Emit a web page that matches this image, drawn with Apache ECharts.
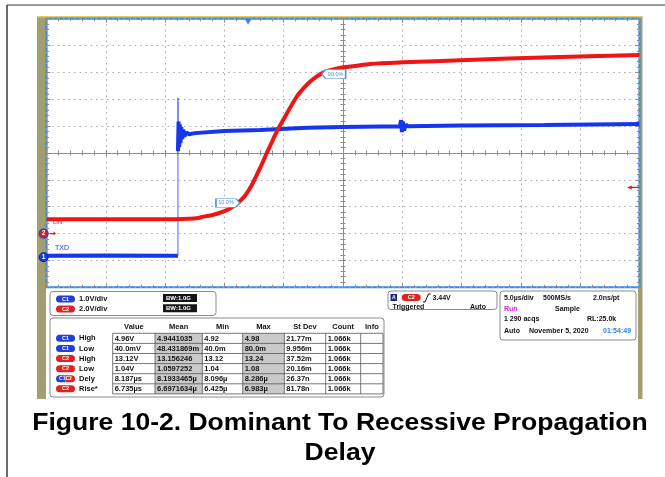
<!DOCTYPE html>
<html><head><meta charset="utf-8">
<script src="https://cdn.jsdelivr.net/npm/echarts@6/dist/echarts.min.js"></script>
<style>html,body{margin:0;padding:0;background:#fff}#c{width:665px;height:477px}</style>
</head><body><div id="c"></div>
<script>
// ---- data (time in µs, 5 µs/div; voltages in V) ----
const timeMin = -25, timeMax = 25, timeDiv = 5;
// C2 LIN (2.0 V/div, ground 2 div above bottom)
const redT = [-25,-20,-15,-13,-12.2,-11.78,-11,-10.1,-9.5,-8.97,-8.5,-8.12,-7.7,-7.28,-6.85,-6.44,-6.0,-5.59,-4.89,-3.91,-3.3,-2.78,-2.2,-1.66,-1.0,0.03,1,2.28,5.05,10.42,17.57,25];
const redV = [1.06,1.07,1.06,1.10,1.16,1.26,1.38,1.63,1.88,2.20,2.58,3.00,3.60,4.36,5.15,5.98,6.80,7.59,8.70,10.19,10.85,11.31,11.70,11.98,12.18,12.38,12.48,12.63,12.75,12.92,13.13,13.30];
// C1 TXD (1.0 V/div)
const blueLowT = [-25,-20,-15,-13.92];
const blueLowV = [0.05,0.06,0.05,0.05];
const blueEdgeT = [-13.92,-13.92,-13.90];
const blueEdgeV = [0.05,5.93,3.95];
const blueHighT = [-13.92,-13.87,-13.82,-13.77,-13.71,-13.64,-13.56,-13.47,-13.37,-13.2,-13.0,-12.5,-10,-7,-3,0,4.8,4.9,4.97,5.05,5.15,5.3,5.5,10,17,25];
const blueHighV = [3.95,5.05,4.10,4.95,4.25,4.85,4.40,4.75,4.50,4.65,4.58,4.62,4.70,4.74,4.82,4.85,4.88,5.10,4.66,5.05,4.72,4.93,4.88,4.90,4.92,4.96];
// annotations (data coords)
const trigTime = -8.0, trigLevel = 3.44;
const pct10 = [-8.69, 2.28], pct90 = [-1.80, 11.88];
// measurement table
const tableHead = ['Value','Mean','Min','Max','St Dev','Count','Info'];
const rowCh = ['C1','C1','C2','C2','C1C2','C2'];
const rowName = ['High','Low','High','Low','Dely','Rise*'];
const colValue = ['4.96V','40.0mV','13.12V','1.04V','8.187µs','6.735µs'];
const colMean = ['4.9441035','48.431869m','13.156246','1.0597252','8.1933465µ','6.6971634µ'];
const colMin = ['4.92','40.0m','13.12','1.04','8.096µ','6.425µ'];
const colMax = ['4.98','80.0m','13.24','1.08','8.286µ','6.983µ'];
const colStDev = ['21.77m','9.956m','37.52m','20.16m','26.37n','81.78n'];
const colCount = ['1.066k','1.066k','1.066k','1.066k','1.066k','1.066k'];
const colInfo = ['','','','','',''];

const zip = (a,b) => a.map((v,i)=>[v,b[i]]);
const F = '"Liberation Sans", Arial, sans-serif';
const BLUE = '#1636ee', RED = '#f01414', GRIDC = '#a8a8a8', CENTER = '#8c8c8c';

// ---- decorations ----
const G = [];
function rect(x,y,w,h,fill,stroke,lw,r,z){G.push({type:'rect',z:z==null?5:z,shape:{x:x,y:y,width:w,height:h,r:r||0},style:{fill:fill||'none',stroke:stroke||'none',lineWidth:lw||1}});}
function text(x,y,s,font,fill,align,z,sx){G.push({type:'text',z:z==null?6:z,x:x,y:y,scaleX:sx||1,style:{text:s,font:font,fill:fill,textAlign:align||'left',textVerticalAlign:'middle'}});}
function line(x1,y1,x2,y2,stroke,lw,z){G.push({type:'line',z:z==null?6:z,shape:{x1:x1,y1:y1,x2:x2,y2:y2},style:{stroke:stroke,lineWidth:lw||1}});}
function pill(x,y,ch){
  const w=19,h=7;
  if(ch==='C1C2'){
    rect(x,y,w/2,h,'#1f3fd8',null,1,[3.5,0,0,3.5]);
    rect(x+w/2,y,w/2,h,'#e02222',null,1,[0,3.5,3.5,0]);
    text(x+w/2,y+h/2,'C1C2','bold 5px '+F,'#fff','center');
  } else {
    rect(x,y,w,h,ch==='C1'?'#1f3fd8':'#e02222',null,1,3.5);
    text(x+w/2,y+h/2,ch,'bold 5.5px '+F,'#fff','center');
  }
}
// outer frame
line(7,5,7,477,'#3a3a3a',1.5,1);
line(7,5,665,5,'#3a3a3a',1,1);
// scope background
rect(37,16,605.5,383,'#a19e6f',null,1,0,-5);
line(37,16.7,642.5,16.7,'#d8cd66',1.5,-4);
rect(46,18,594,270,'#ffffff',null,1,0,-4);
rect(46,287,592,112,'#ffffff',null,1,0,-4);
// channel box
const FT = 'bold 7.5px '+F, FS='bold 7px '+F;
rect(50,291.5,166,24,'#fff','#8a8a8a',1,3);
pill(56,295.5,'C1'); text(79,299,'1.0V/div',FT,'#111');
pill(56,305.5,'C2'); text(79,309,'2.0V/div',FT,'#111');
rect(163,294,34,8,'#151515'); text(166,298,'BW:1.0G','bold 6px '+F,'#fff');
rect(163,304.3,34,8,'#151515'); text(166,308.3,'BW:1.0G','bold 6px '+F,'#fff');
// table
rect(50,318,334,79,'#fff','#8a8a8a',1,3);
const colX = [112.7,155,202.3,242.7,284.3,325.7,360.7,383];
const rowY = [333.3,343.4,353.5,363.6,373.7,383.8,393.9];
const cols = [colValue,colMean,colMin,colMax,colStDev,colCount,colInfo];
rect(colX[1],rowY[0],colX[2]-colX[1],rowY[6]-rowY[0],'#c9c9c9');
rect(colX[3],rowY[0],colX[4]-colX[3],rowY[6]-rowY[0],'#c9c9c9');
tableHead.forEach((h,i)=>text((colX[i]+colX[i+1])/2,326.5,h,FT,'#111','center'));
colX.forEach(x=>line(x,rowY[0],x,rowY[6],'#555',0.8));
rowY.forEach(y=>line(colX[0],y,colX[7],y,'#555',0.8));
rowName.forEach((n,r)=>{
  const cy=(rowY[r]+rowY[r+1])/2;
  pill(56,cy-3.5,rowCh[r]);
  text(79,cy,n,FT,'#111');
  cols.forEach((c,i)=>{ if(c[r]) text(colX[i]+2,cy+0.3,c[r],FT,'#111'); });
});
// trigger box
rect(388,291,109,18.5,'#fff','#8a8a8a',1,3);
rect(390.5,294,6.5,7,'#1b2a80'); text(393.7,297.5,'A','bold 5px '+F,'#fff','center');
pill(401.7,294,'C2');
G.push({type:'polyline',z:6,shape:{points:[[423,302],[425,302],[428.5,294],[430.5,294]]},style:{stroke:'#111',lineWidth:1,fill:'none'}});
text(432.5,297.7,'3.44V',FS,'#111');
text(392.5,306.7,'Triggered',FS,'#111');
text(470,306.7,'Auto',FS,'#111');
// acquisition box
rect(500,291,136,49,'#fff','#8a8a8a',1,3);
text(504,297.7,'5.0µs/div',FS,'#111'); text(543,297.7,'500MS/s',FS,'#111'); text(593,297.7,'2.0ns/pt',FS,'#111');
text(504,309,'Run',FS,'#e020e0'); text(555,309,'Sample',FS,'#111');
text(504,319.5,'1 290 acqs',FS,'#111'); text(587,319.5,'RL:25.0k',FS,'#111');
text(504,330.7,'Auto',FS,'#111'); text(529,330.7,'November 5, 2020',FS,'#111'); text(603,330.7,'01:54:49',FS,'#2a80f0');
// trace labels
text(53,222.7,'LIN','6px '+F,RED);
text(55,247.7,'TXD','7px '+F,BLUE);
// caption
text(340,423.5,'Figure 10-2. Dominant To Recessive Propagation','bold 24px '+F,'#000','center',6,1.105);
text(340,453,'Delay','bold 24px '+F,'#000','center',6,1.105);

// ---- chart ----
const chart = echarts.init(document.getElementById('c'), null, {renderer:'canvas'});
const dotted = {show:true, lineStyle:{color:GRIDC, type:[1.5,4], width:1}};
function borderX(pos){return {type:'value',min:timeMin,max:timeMax,interval:timeDiv,position:pos,
  axisLine:{show:false,onZero:false},axisLabel:{show:false},
  axisTick:{show:true,inside:true,length:4,lineStyle:{color:CENTER}},
  minorTick:{show:true,splitNumber:5,length:2.5,lineStyle:{color:CENTER}},
  splitLine:pos==='bottom'?dotted:{show:false}};}
function centerX(inside){return {type:'value',min:timeMin,max:timeMax,interval:timeDiv,position:'bottom',
  axisLine:{show:true,onZero:true,onZeroAxisIndex:0,lineStyle:{color:CENTER,width:1}},axisLabel:{show:false},
  axisTick:{show:true,inside:inside,length:3,lineStyle:{color:CENTER}},
  minorTick:{show:true,splitNumber:5,length:2.5,lineStyle:{color:CENTER}},splitLine:{show:false}};}
function borderY(pos){return {type:'value',min:-5,max:5,interval:1,position:pos,
  axisLine:{show:false,onZero:false},axisLabel:{show:false},
  axisTick:{show:true,inside:true,length:4,lineStyle:{color:CENTER}},
  minorTick:{show:true,splitNumber:5,length:2.5,lineStyle:{color:CENTER}},
  splitLine:pos==='left'?dotted:{show:false}};}
function centerY(inside){return {type:'value',min:-5,max:5,interval:1,position:'left',
  axisLine:{show:true,onZero:true,onZeroAxisIndex:0,lineStyle:{color:CENTER,width:1}},axisLabel:{show:false},
  axisTick:{show:true,inside:inside,length:3,lineStyle:{color:CENTER}},
  minorTick:{show:true,splitNumber:5,length:2.5,lineStyle:{color:CENTER}},splitLine:{show:false}};}
const arrowR = 'path://M0,2 L6,2 L6,0 L10,3 L6,6 L6,4 L0,4 Z';
const arrowL = 'path://M10,2 L4,2 L4,0 L0,3 L4,6 L4,4 L10,4 Z';
const noLabel = {show:false};
chart.setOption({
  animation:false,
  grid:{left:46.6,right:25.6,top:18.7,bottom:189.7,show:true,backgroundColor:'#fff',borderColor:'#3d86e3',borderWidth:2,z:0},
  xAxis:[borderX('bottom'),borderX('top'),centerX(false),centerX(true)],
  yAxis:[borderY('left'),borderY('right'),centerY(false),centerY(true),
    {type:'value',min:-1.12,max:8.88,show:false,axisLine:{onZero:false},splitLine:{show:false}},
    {type:'value',min:-4,max:16,show:false,axisLine:{onZero:false},splitLine:{show:false}}],
  graphic:G,
  series:[
    {type:'line',name:'TXD low',xAxisIndex:0,yAxisIndex:4,data:zip(blueLowT,blueLowV),showSymbol:false,
     lineStyle:{color:BLUE,width:4},z:3,
     markPoint:{data:[{coord:[timeMin,0],symbol:'circle',symbolSize:9,symbolOffset:[-3,0],
       itemStyle:{color:'#1a3de0',borderColor:'#0a1a90',borderWidth:1},
       label:{show:true,formatter:'1',color:'#fff',fontSize:6.5,fontWeight:'bold',position:'inside'}}]}},
    {type:'line',name:'TXD edge',xAxisIndex:0,yAxisIndex:4,data:zip(blueEdgeT,blueEdgeV),showSymbol:false,
     lineStyle:{color:'#4a66f5',width:1},z:3},
    {type:'line',name:'TXD high',xAxisIndex:0,yAxisIndex:4,data:zip(blueHighT,blueHighV),showSymbol:false,
     lineStyle:{color:BLUE,width:4},z:3},
    {type:'line',name:'LIN',xAxisIndex:0,yAxisIndex:5,data:zip(redT,redV),showSymbol:false,smooth:0.3,
     lineStyle:{color:RED,width:4},z:4,
     markPoint:{data:[
       {coord:[timeMin,0],symbol:'circle',symbolSize:9,symbolOffset:[-3,0],
        itemStyle:{color:'#e0201c',borderColor:'#1b3de0',borderWidth:1.2},
        label:{show:true,formatter:'2',color:'#fff',fontSize:6.5,fontWeight:'bold',position:'inside'}},
       {coord:[timeMin,0],symbol:arrowR,symbolSize:[6,4],symbolOffset:[6.4,0],itemStyle:{color:RED},label:noLabel},
       {coord:[timeMax,trigLevel],symbol:arrowL,symbolSize:[12,4],symbolOffset:[-6.4,0],itemStyle:{color:RED},label:noLabel},
       {coord:[trigTime,16],symbol:'path://M0,0 L10,0 L5,8 Z',symbolSize:[7,6],symbolOffset:[0,3],itemStyle:{color:'#3b87e0'},label:noLabel},
       {coord:pct10,symbol:'path://M0,0 L20,0 L24,4.25 L20,8.5 L0,8.5 Z',symbolSize:[24,8.5],symbolOffset:[-12,0],
        itemStyle:{color:'#fff',borderColor:'#4a90e0',borderWidth:1},
        label:{show:true,formatter:'10.0%',color:'#4a90e0',fontSize:5.5,position:'inside',offset:[-2,0]}},
       {coord:pct90,symbol:'path://M4,0 L24,0 L24,9 L4,9 L0,4.5 Z',symbolSize:[24,9],symbolOffset:[12,0],
        itemStyle:{color:'#fff',borderColor:'#4a90e0',borderWidth:1},
        label:{show:true,formatter:'90.0%',color:'#4a90e0',fontSize:5.5,position:'inside',offset:[2,0]}}
     ]}}
  ]
});
</script></body></html>
